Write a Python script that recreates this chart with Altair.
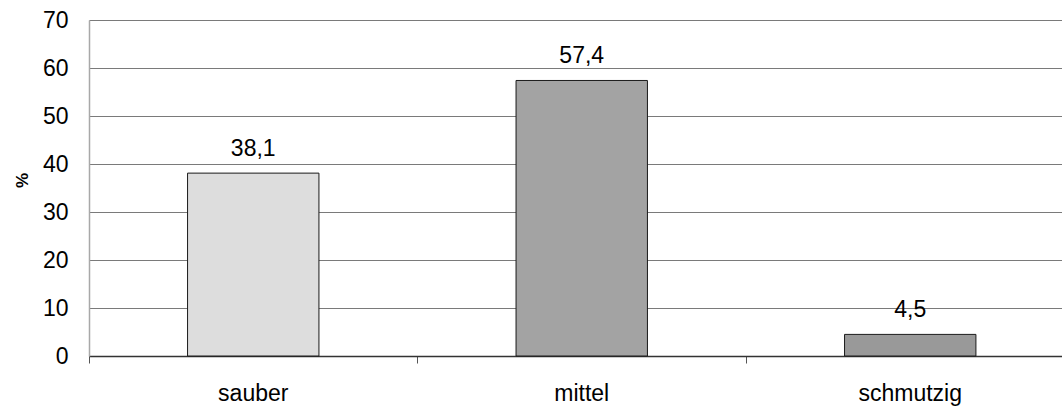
import altair as alt
import pandas as pd

categories = ["sauber", "mittel", "schmutzig"]
values = [38.1, 57.4, 4.5]
colors = ["#dddddd", "#a3a3a3", "#999999"]

df = pd.DataFrame({
    "cat": categories,
    "idx": list(range(len(categories))),
    "value": values,
    "color": colors,
})

PLOT_W = 973
PLOT_H = 336
X_MAX = 2.962  # category slots shown (the third slot runs off the right edge)
FONT = "Liberation Sans"
FS = 23

base = alt.Chart(df).transform_calculate(
    x0="datum.idx + 0.3",
    x1="datum.idx + 0.7",
    xc="datum.idx + 0.5",
    lbl="replace(format(datum.value, '.1f'), '.', ',')",
)

x_scale = alt.Scale(domain=[0, X_MAX], nice=False, zero=False)
y_scale = alt.Scale(domain=[0, 70], nice=False)

bars = base.mark_bar(stroke="#1a1a1a", strokeWidth=1).encode(
    x=alt.X("x0:Q", scale=x_scale,
            axis=alt.Axis(values=[0, 1, 2, 3], labels=False, title=None,
                          grid=False, domainColor="#333333", domainWidth=1.5,
                          tickColor="#555555", tickSize=7, tickWidth=1)),
    x2="x1:Q",
    y=alt.Y("value:Q", scale=y_scale,
            axis=alt.Axis(values=list(range(0, 71, 10)), title="%",
                          grid=True, gridColor="#7a7a7a", gridWidth=1,
                          domainColor="#a8a8a8", domainWidth=1.5,
                          ticks=False, labelPadding=21,
                          labelFont=FONT, labelFontSize=FS,
                          labelColor="#000000",
                          titleFont=FONT, titleFontSize=17,
                          titleFontWeight="bold", titleColor="#000000",
                          titleAngle=270, titleAlign="center",
                          titleBaseline="middle", titleX=-67, titleY=160)),
    y2=alt.datum(0),
    color=alt.Color("color:N", scale=None),
)

value_labels = base.mark_text(
    font=FONT, fontSize=FS, baseline="alphabetic", dy=-17, color="#000000"
).encode(
    x=alt.X("xc:Q", scale=x_scale),
    y=alt.Y("value:Q", scale=y_scale),
    text="lbl:N",
)

cat_labels = base.mark_text(
    font=FONT, fontSize=FS, baseline="alphabetic", color="#000000"
).encode(
    x=alt.X("xc:Q", scale=x_scale),
    y=alt.value(PLOT_H + 45),
    text="cat:N",
)

chart = alt.layer(bars, value_labels, cat_labels).properties(
    width=PLOT_W,
    height=PLOT_H,
    autosize=alt.AutoSizeParams(type="none"),
    padding={"left": 89, "top": 20, "right": 0, "bottom": 55},
).configure_view(stroke=None).configure(background="white")

chart.save("out.html", embed_options={"renderer": "svg", "actions": False})
